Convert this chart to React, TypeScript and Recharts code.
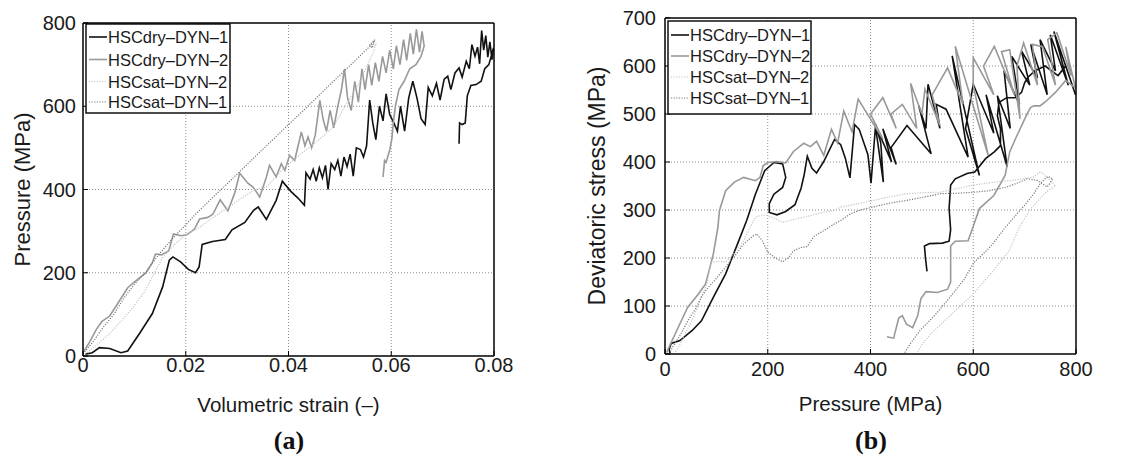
import React from 'react';
import { LineChart, Line, XAxis, YAxis, ReferenceLine, Label } from 'recharts';

type Pt = [number, number];

// ---------- labels / ticks ----------
const seriesNames = ['HSCdry–DYN–1', 'HSCdry–DYN–2', 'HSCsat–DYN–2', 'HSCsat–DYN–1'];
const strainTicks = [0, 0.02, 0.04, 0.06, 0.08];
const pressureTicks = [0, 200, 400, 600, 800];
const deviatoricTicks = [0, 100, 200, 300, 400, 500, 600, 700];

// ---------- panel (a): volumetric strain vs pressure ----------
const aDry1: Pt[] = [
  [0.0004, 4], [0.0018, 8], [0.0032, 20], [0.0052, 18], [0.0074, 8], [0.0087, 12], [0.011, 54], [0.0135, 102],
  [0.0155, 166], [0.0168, 230], [0.0175, 238], [0.019, 226], [0.0205, 208], [0.0219, 200], [0.0226, 214],
  [0.0232, 268], [0.0252, 275], [0.0277, 280], [0.029, 303], [0.0315, 321], [0.0332, 350], [0.0341, 358],
  [0.0357, 328], [0.0376, 374], [0.0388, 420], [0.0405, 395], [0.0418, 380], [0.0431, 362], [0.0434, 440],
  [0.0442, 425], [0.0448, 448], [0.0454, 420], [0.046, 452], [0.0466, 428], [0.0472, 458], [0.0477, 400],
  [0.0483, 462], [0.049, 448], [0.0496, 470], [0.0502, 432], [0.0508, 478], [0.0514, 455], [0.052, 485],
  [0.0526, 432], [0.0532, 500], [0.054, 496], [0.0546, 478], [0.0552, 505], [0.0558, 615], [0.0564, 560],
  [0.057, 520], [0.0577, 600], [0.0584, 565], [0.059, 630], [0.0597, 580], [0.0605, 560], [0.0612, 540],
  [0.0618, 600], [0.0626, 540], [0.0634, 620], [0.0642, 660], [0.065, 620], [0.0658, 570], [0.0666, 556],
  [0.0672, 645], [0.068, 625], [0.0688, 655], [0.0695, 615], [0.0703, 665], [0.071, 672], [0.0716, 640],
  [0.0724, 680], [0.0732, 692], [0.0738, 670], [0.0746, 708], [0.0752, 690], [0.0757, 748], [0.0763, 720],
  [0.0768, 742], [0.0772, 702], [0.0776, 782], [0.078, 735], [0.0784, 770], [0.0788, 718], [0.0792, 755],
  [0.0796, 712], [0.0799, 740], [0.079, 700], [0.0782, 690], [0.0775, 660], [0.0765, 652], [0.0755, 650],
  [0.0748, 625], [0.0744, 560], [0.0738, 556], [0.0733, 560], [0.0732, 510],
];
const aDry2: Pt[] = [
  [0, 8], [0.0013, 34], [0.0026, 64], [0.0037, 83], [0.0052, 96], [0.0066, 123], [0.0087, 164], [0.0108, 186],
  [0.0123, 200], [0.0135, 224], [0.0141, 245], [0.0153, 243], [0.0167, 253], [0.0176, 293], [0.0191, 289],
  [0.0203, 292], [0.0217, 305], [0.0227, 329], [0.0243, 333], [0.0253, 341], [0.0267, 375], [0.0282, 349],
  [0.0295, 390], [0.0305, 439], [0.0321, 415], [0.0331, 406], [0.0344, 382], [0.0357, 430], [0.0363, 458],
  [0.0376, 430], [0.0386, 462], [0.0393, 446], [0.0402, 482], [0.0412, 470], [0.0425, 538], [0.0432, 505],
  [0.0438, 526], [0.0445, 500], [0.0452, 530], [0.0461, 614], [0.0468, 565], [0.0474, 540], [0.0481, 590],
  [0.0488, 548], [0.0496, 600], [0.0503, 640], [0.0509, 690], [0.0515, 620], [0.0522, 590], [0.0529, 660],
  [0.0536, 610], [0.0543, 690], [0.0549, 640], [0.0556, 700], [0.0562, 650], [0.0569, 705], [0.0576, 660],
  [0.0583, 720], [0.059, 680], [0.0597, 735], [0.0604, 690], [0.061, 745], [0.0617, 700], [0.0624, 760],
  [0.063, 710], [0.0637, 775], [0.0643, 725], [0.0649, 785], [0.0655, 730], [0.066, 780], [0.0664, 745],
  [0.0658, 720], [0.0648, 700], [0.0636, 690], [0.0625, 660], [0.0615, 640], [0.0608, 600], [0.0604, 560],
  [0.0601, 520], [0.0597, 495], [0.0593, 478], [0.059, 465], [0.0587, 470], [0.0584, 430],
];
const aSat2: Pt[] = [
  [0, 0], [0.002, 20], [0.0049, 50], [0.0075, 85], [0.0096, 115], [0.012, 155], [0.0141, 204], [0.0155, 236],
  [0.0179, 269], [0.0203, 293], [0.0227, 309], [0.025, 330], [0.0274, 350], [0.03, 372], [0.0335, 400],
  [0.0357, 406], [0.039, 450], [0.042, 482], [0.045, 510], [0.0487, 550], [0.051, 600], [0.0535, 650],
  [0.0552, 694], [0.0565, 730], [0.0571, 752], [0.0566, 742],
];
const aSat1: Pt[] = [
  [0, 5], [0.002, 35], [0.004, 70], [0.006, 100], [0.008, 140], [0.01, 172], [0.012, 198], [0.014, 232],
  [0.016, 262], [0.018, 290], [0.02, 315], [0.022, 342], [0.025, 378], [0.028, 413], [0.031, 449],
  [0.034, 485], [0.037, 520], [0.04, 556], [0.043, 591], [0.046, 627], [0.049, 663], [0.052, 698],
  [0.055, 734], [0.0562, 748], [0.0568, 760], [0.0563, 740], [0.0558, 748], [0.0565, 756],
];

// ---------- panel (b): pressure vs deviatoric stress ----------
const bDry1: Pt[] = [
  [10, 0], [8, 10], [12, 22], [29, 28], [53, 49], [71, 69], [94, 118], [118, 167], [141, 229], [159, 278],
  [176, 333], [194, 382], [212, 399], [229, 396], [235, 368], [229, 347], [212, 333], [203, 313], [203, 295],
  [218, 290], [235, 297], [253, 311], [265, 346], [271, 374], [277, 412], [286, 387], [295, 377], [309, 401],
  [330, 447], [342, 436], [351, 408], [360, 367], [369, 478], [378, 468], [395, 415], [401, 356], [410, 478],
  [420, 440], [425, 358], [409, 479], [441, 400], [424, 469], [450, 395], [440, 430], [471, 476], [518, 417],
  [494, 517], [508, 470], [512, 562], [535, 470], [528, 520], [547, 510], [590, 410], [559, 621], [612, 372],
  [585, 470], [600, 562], [640, 460], [625, 540], [666, 390], [647, 538], [672, 470], [660, 590], [690, 520],
  [675, 620], [710, 560], [694, 631], [725, 575], [712, 645], [744, 540], [730, 655], [760, 590], [750, 665],
  [785, 560], [757, 672], [799, 540], [780, 600], [765, 580], [740, 600], [720, 590], [706, 576], [700, 565],
  [694, 545], [682, 534], [665, 534], [650, 524], [647, 496], [653, 469], [653, 434], [641, 421], [624, 407],
  [603, 379], [588, 376], [565, 365], [556, 352], [553, 303], [556, 259], [553, 235], [540, 231], [515, 230],
  [505, 225], [507, 200], [510, 172],
];
const bDry2: Pt[] = [
  [3, 3], [12, 24], [29, 63], [44, 97], [65, 125], [79, 146], [94, 208], [103, 264], [106, 299], [118, 340],
  [135, 358], [153, 368], [176, 361], [185, 368], [191, 392], [200, 399], [218, 401], [235, 398], [250, 422],
  [270, 439], [283, 432], [295, 443], [309, 414], [324, 468], [336, 440], [348, 506], [364, 463], [376, 531],
  [424, 448], [400, 500], [424, 534], [450, 470], [440, 500], [462, 520], [490, 470], [478, 564], [500, 500],
  [506, 552], [535, 476], [520, 540], [550, 596], [580, 520], [565, 641], [629, 414], [600, 560], [600, 617],
  [640, 540], [620, 600], [641, 641], [680, 540], [655, 630], [671, 634], [691, 490], [685, 600], [698, 648],
  [725, 560], [715, 645], [735, 640], [760, 560], [745, 655], [763, 669], [790, 580], [780, 640], [799, 554],
  [780, 570], [760, 545], [740, 525], [730, 517], [718, 517], [712, 514], [706, 503], [682, 448], [671, 421],
  [662, 372], [640, 330], [612, 303], [598, 260], [590, 236], [565, 235], [556, 225], [556, 200], [556, 150],
  [550, 135], [530, 128], [508, 130], [498, 115], [492, 80], [482, 55], [470, 62], [462, 80], [455, 75],
  [445, 33], [432, 36],
];
const bSat2: Pt[] = [
  [18, 0], [30, 22], [43, 50], [56, 78], [70, 115], [82, 148], [89, 190], [102, 193], [118, 192], [135, 210],
  [153, 236], [165, 262], [176, 285], [190, 290], [200, 288], [215, 282], [229, 274], [253, 281], [282, 288],
  [306, 295], [329, 299], [342, 306], [370, 312], [406, 320], [440, 328], [471, 334], [500, 336], [536, 337],
  [570, 345], [601, 352], [640, 358], [680, 362], [718, 369], [731, 380], [750, 362], [760, 350], [745, 340],
  [735, 330], [710, 300], [690, 265], [670, 215], [640, 175], [600, 125], [560, 85], [520, 45], [500, 20],
  [490, 0],
];
const bSat1: Pt[] = [
  [8, 0], [15, 15], [30, 40], [45, 70], [60, 95], [71, 120], [85, 140], [94, 150], [118, 181], [140, 210],
  [153, 229], [170, 245], [179, 250], [190, 235], [200, 212], [215, 200], [229, 192], [240, 200], [250, 215],
  [265, 222], [277, 224], [290, 245], [309, 257], [325, 268], [342, 278], [361, 292], [380, 300], [400, 305],
  [420, 310], [440, 315], [471, 320], [500, 326], [536, 334], [570, 335], [601, 337], [630, 340], [666, 348],
  [690, 358], [705, 365], [724, 362], [744, 348], [755, 365], [745, 370], [730, 355], [718, 334], [700, 310],
  [685, 292], [659, 259], [634, 224], [601, 190], [582, 155], [556, 120], [523, 78], [497, 50], [478, 22],
  [465, 0],
];

// ---------- styling ----------
const styles = [
  { stroke: '#111111', width: 1.6, dash: undefined as string | undefined },
  { stroke: '#999999', width: 1.6, dash: undefined as string | undefined },
  { stroke: '#c4c4c4', width: 1.2, dash: '1.2 1.4' },
  { stroke: '#7a7a7a', width: 1.2, dash: '1.2 1.4' },
];

const toRows = (pts: Pt[]) => pts.map(([x, y]) => ({ x, y }));

const FONT = '"Liberation Sans", Arial, Helvetica, sans-serif';
const tickStyle = { fill: '#1a1a1a', fontSize: 20, fontFamily: FONT };
const axisLineStyle = { stroke: '#000', strokeWidth: 1.5 };
const GRID = { stroke: '#8c8c8c', strokeWidth: 1, strokeDasharray: '1 2' };

type PanelProps = {
  left: number;
  margin: { top: number; right: number; bottom: number; left: number };
  xDomain: [number, number];
  xTicks: number[];
  yDomain: [number, number];
  yTicks: number[];
  xFmt?: (v: number) => string;
  xLabel: string;
  yLabel: string;
  xTickMargin: number;
  yTickMargin: number;
  xLabelOffset: number;
  yLabelOffset: number;
  yLabelSize: number;
  series: Pt[][];
};

function Panel(p: PanelProps) {
  const innerX = p.xTicks.filter((t) => t > p.xDomain[0] && t < p.xDomain[1]);
  const innerY = p.yTicks.filter((t) => t > p.yDomain[0] && t < p.yDomain[1]);
  return (
    <div style={{ position: 'absolute', left: p.left, top: 0 }}>
      <LineChart width={574} height={459} margin={p.margin}>
        <XAxis
          xAxisId="b"
          type="number"
          dataKey="x"
          domain={p.xDomain}
          ticks={p.xTicks}
          interval={0}
          allowDataOverflow
          height={30}
          tickSize={-5}
          tickMargin={p.xTickMargin}
          tickFormatter={p.xFmt}
          tick={tickStyle}
          axisLine={axisLineStyle}
          tickLine={{ stroke: '#000' }}
        >
          <Label
            value={p.xLabel}
            position="bottom"
            offset={p.xLabelOffset}
            style={{ fontSize: 20.5, fontFamily: FONT, fill: '#1a1a1a' }}
          />
        </XAxis>
        <XAxis
          xAxisId="t"
          orientation="top"
          type="number"
          dataKey="x"
          domain={p.xDomain}
          ticks={p.xTicks}
          interval={0}
          allowDataOverflow
          height={10}
          tickSize={-5}
          tick={false}
          axisLine={axisLineStyle}
          tickLine={{ stroke: '#000' }}
        />
        <YAxis
          yAxisId="l"
          type="number"
          domain={p.yDomain}
          ticks={p.yTicks}
          interval={0}
          allowDataOverflow
          width={60}
          tickSize={-5}
          tickMargin={p.yTickMargin}
          tick={tickStyle}
          axisLine={axisLineStyle}
          tickLine={{ stroke: '#000' }}
        >
          <Label
            value={p.yLabel}
            angle={-90}
            position="insideLeft"
            offset={p.yLabelOffset}
            style={{ fontSize: p.yLabelSize, fontFamily: FONT, fill: '#1a1a1a', textAnchor: 'middle' }}
          />
        </YAxis>
        <YAxis
          yAxisId="r"
          orientation="right"
          type="number"
          domain={p.yDomain}
          ticks={p.yTicks}
          interval={0}
          allowDataOverflow
          width={20}
          tickSize={-5}
          tick={false}
          axisLine={axisLineStyle}
          tickLine={{ stroke: '#000' }}
        />
        {innerX.map((t) => (
          <ReferenceLine key={'gx' + t} xAxisId="b" yAxisId="l" x={t} {...GRID} />
        ))}
        {innerY.map((t) => (
          <ReferenceLine key={'gy' + t} xAxisId="b" yAxisId="l" y={t} {...GRID} />
        ))}
        {p.series.map((pts, i) => (
          <Line
            key={i}
            xAxisId="b"
            yAxisId="l"
            data={toRows(pts)}
            dataKey="y"
            name={seriesNames[i]}
            type="linear"
            stroke={styles[i].stroke}
            strokeWidth={styles[i].width}
            strokeDasharray={styles[i].dash}
            dot={false}
            activeDot={false}
            isAnimationActive={false}
          />
        ))}
      </LineChart>
    </div>
  );
}

function LegendBox({ x, y, w, h, rows, lineX1, lineX2, textX }: { x: number; y: number; w: number; h: number; rows: number[]; lineX1: number; lineX2: number; textX: number }) {
  return (
    <g>
      <rect x={x} y={y} width={w} height={h} fill="#fff" stroke="#000" strokeWidth={1.4} />
      {seriesNames.map((name, i) => (
        <g key={name}>
          <line
            x1={lineX1}
            x2={lineX2}
            y1={rows[i]}
            y2={rows[i]}
            stroke={styles[i].stroke}
            strokeWidth={styles[i].width}
            strokeDasharray={styles[i].dash}
          />
          <text x={textX} y={rows[i]} dominantBaseline="central" fontSize={16.5} fontFamily={FONT} fill="#1a1a1a">
            {name}
          </text>
        </g>
      ))}
    </g>
  );
}

export default function App() {
  return (
    <div style={{ position: 'absolute', left: 0, top: 0, width: 1148, height: 459, background: '#fff', overflow: 'hidden' }}>
      <Panel
        left={0}
        margin={{ top: 13, right: 60, bottom: 73, left: 23 }}
        xDomain={[0, 0.08]}
        xTicks={strainTicks}
        yDomain={[0, 800]}
        yTicks={pressureTicks}
        xFmt={(v: number) => (v === 0 ? '0' : v.toFixed(2))}
        xLabel="Volumetric strain (–)"
        yLabel="Pressure (MPa)"
        xTickMargin={7}
        yTickMargin={12}
        xLabelOffset={11}
        yLabelOffset={-1}
        yLabelSize={22}
        series={[aDry1, aDry2, aSat2, aSat1]}
      />
      <Panel
        left={574}
        margin={{ top: 8, right: 52, bottom: 75, left: 31 }}
        xDomain={[0, 800]}
        xTicks={pressureTicks}
        yDomain={[0, 700]}
        yTicks={deviatoricTicks}
        xLabel="Pressure (MPa)"
        yLabel="Deviatoric stress (MPa)"
        xTickMargin={13}
        yTickMargin={14}
        xLabelOffset={12}
        yLabelOffset={-8}
        yLabelSize={23}
        series={[bDry1, bDry2, bSat2, bSat1]}
      />
      <svg width={1148} height={459} style={{ position: 'absolute', left: 0, top: 0, pointerEvents: 'none' }}>
        <LegendBox x={86} y={24} w={144} h={89} rows={[37, 59.5, 81.5, 102]} lineX1={89} lineX2={107} textX={108} />
        <LegendBox x={668} y={21} w={143} h={93} rows={[35, 56, 77, 98]} lineX1={671} lineX2={689} textX={690} />
        <text x={289} y={449} textAnchor="middle" fontSize={26} fontWeight="bold" fontFamily='"Liberation Serif", "Times New Roman", serif' fill="#111">(a)</text>
        <text x={871} y={449} textAnchor="middle" fontSize={26} fontWeight="bold" fontFamily='"Liberation Serif", "Times New Roman", serif' fill="#111">(b)</text>
      </svg>
    </div>
  );
}
